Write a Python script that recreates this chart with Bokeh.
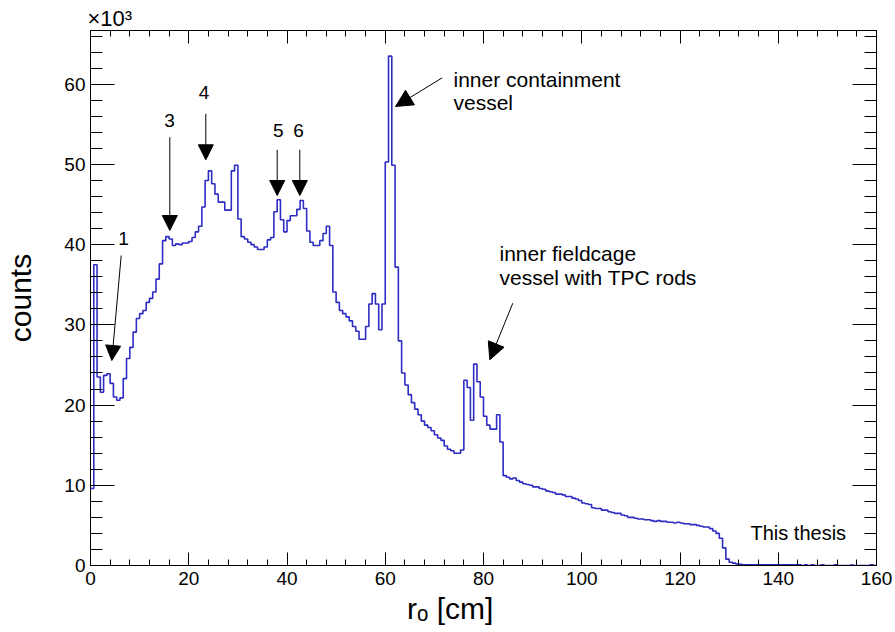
import numpy as np
from bokeh.plotting import figure
from bokeh.models import (Range1d, FixedTicker, LinearAxis, Label, Arrow, NormalHead,
                          CustomJSTickFormatter, ColumnDataSource)
from bokeh.embed import file_html
from bokeh.resources import INLINE

# ---------------- data ----------------
R_MIN, R_MAX, N_BINS = 0.0, 160.0, 240          # histogram binning (cm)
Y_MAX = 66.7                                     # counts axis max (x10^3)

counts_k = [  # counts per bin, in units of 10^3
    9.6, 37.5, 23.5, 21.6, 23.7, 23.9, 22.7, 21.0, 20.6, 20.9,
    23.3, 25.8, 27.2, 29.1, 30.8, 31.4, 31.8, 32.8, 33.3, 34.1,
    35.7, 37.6, 40.5, 41.0, 40.7, 39.9, 40.1, 40.0, 40.2, 40.2,
    40.4, 40.9, 41.6, 42.3, 44.7, 48.0, 49.2, 47.6, 46.3, 45.3,
    45.3, 44.3, 44.3, 49.2, 49.9, 43.2, 41.0, 40.7, 40.3, 40.0,
    39.7, 39.4, 39.4, 39.7, 40.6, 40.9, 44.1, 45.6, 43.1, 41.6,
    43.0, 43.6, 43.6, 44.4, 45.5, 44.5, 41.7, 40.3, 39.9, 39.9,
    40.5, 41.4, 42.3, 39.9, 34.1, 32.8, 31.8, 31.4, 31.0, 30.5,
    29.8, 29.2, 28.2, 28.2, 29.8, 32.6, 33.9, 32.6, 29.4, 32.6,
    50.3, 63.5, 49.9, 37.2, 28.0, 24.0, 22.5, 21.3, 20.3, 19.5,
    18.8, 18.0, 17.5, 17.2, 16.8, 16.3, 15.9, 15.6, 14.9, 14.5,
    14.3, 14.0, 14.0, 14.4, 23.1, 22.2, 18.1, 25.1, 22.9, 21.0,
    18.6, 17.5, 17.0, 17.0, 18.8, 15.4, 11.2, 11.0, 10.8, 10.9,
    10.6, 10.4, 10.2, 10.1, 10.0, 9.8, 9.8, 9.6, 9.5, 9.3,
    9.2, 9.1, 8.9, 8.9, 8.8, 8.6, 8.6, 8.4, 8.3, 8.1,
    7.8, 7.7, 7.6, 7.2, 7.1, 7.1, 6.9, 6.9, 6.7, 6.6,
    6.5, 6.5, 6.3, 6.2, 6.0, 6.0, 5.9, 5.8, 5.8, 5.7,
    5.7, 5.6, 5.5, 5.6, 5.5, 5.5, 5.4, 5.4, 5.3, 5.4,
    5.3, 5.2, 5.2, 5.1, 5.1, 5.0, 4.9, 4.8, 4.8, 4.6,
    4.3, 4.0, 3.4, 2.2, 0.8, 0.4, 0.3, 0.2, 0.15, 0.1,
    0.1, 0.1, 0.1, 0.1, 0.1, 0.1, 0.1, 0.1, 0.1, 0.1,
    0.1, 0.1, 0.1, 0.1, 0.1, 0.1, 0.1, 0.0, 0.1, 0.0,
    0.1, 0.0, 0.0, 0.1, 0.0, 0.0, 0.0, 0.1, 0.0, 0.0,
    0.0, 0.0, 0.05, 0.0, 0.0, 0.0, 0.0, 0.0, 0.1, 0.0,
]

x_ticks = [0, 20, 40, 60, 80, 100, 120, 140, 160]
y_ticks = [0, 10, 20, 30, 40, 50, 60]

# ---------------- layout helpers ----------------
W, H = 895, 632
FL, FR, FT, FB = 90, 876, 30, 565        # frame edges in pixels
FONT = "Liberation Sans"
BLUE = "#2d2dc4"

def dx(px):
    return R_MIN + (px - FL) * (R_MAX - R_MIN) / (FR - FL)

def dy(py):
    return (FB - py) * Y_MAX / (FB - FT)

# ---------------- figure ----------------
p = figure(width=W, height=H, x_range=Range1d(R_MIN, R_MAX), y_range=Range1d(0, Y_MAX),
           output_backend="svg", toolbar_location=None,
           min_border_left=FL, min_border_right=W - FR, min_border_top=FT,
           min_border_bottom=H - FB, title="\u00d710\u00b3")
p.background_fill_color = "white"
p.border_fill_color = "white"
p.outline_line_color = "black"
p.outline_line_width = 1
p.xgrid.visible = False
p.ygrid.visible = False

p.title.align = "left"
p.title.offset = -3
p.title.standoff = 0
p.title.text_font = FONT
p.title.text_font_size = "22px"
p.title.text_font_style = "normal"
p.title.text_color = "black"

edges = np.linspace(R_MIN, R_MAX, N_BINS + 1)
src = ColumnDataSource(dict(r=edges, c=list(counts_k) + [counts_k[-1]]))
p.step("r", "c", source=src, mode="after", line_color=BLUE, line_width=1.6)

blank = CustomJSTickFormatter(code="return ''")

def style(ax, ticks, minor, tin, tmin, labels=True):
    ax.ticker = FixedTicker(ticks=ticks, minor_ticks=minor)
    ax.major_tick_in = tin
    ax.major_tick_out = 0
    ax.minor_tick_in = tmin
    ax.minor_tick_out = 0
    ax.axis_line_color = "black"
    ax.major_tick_line_color = "black"
    ax.minor_tick_line_color = "black"
    ax.major_label_text_font = FONT
    ax.major_label_text_font_size = "19px"
    ax.major_label_text_color = "black"
    if not labels:
        ax.formatter = blank
        ax.major_label_text_font_size = "0px"
        ax.major_label_standoff = 0

x_minor = list(np.arange(0, 161, 4))
y_minor = list(np.arange(0, 67, 2))

xa = p.xaxis[0]
style(xa, x_ticks, x_minor, 13, 6)
xa.major_label_standoff = 6
xa.axis_label = "r\u2092 [cm]" + "\u00a0" * 8
xa.axis_label_text_font = FONT
xa.axis_label_text_font_size = "30px"
xa.axis_label_text_font_style = "normal"
xa.axis_label_text_color = "black"
xa.axis_label_standoff = 4

ya = p.yaxis[0]
style(ya, y_ticks, y_minor, 24, 12)
ya.major_label_standoff = 5
ya.axis_label = "counts"
ya.axis_label_text_font = FONT
ya.axis_label_text_font_size = "30px"
ya.axis_label_text_font_style = "normal"
ya.axis_label_text_color = "black"
ya.axis_label_standoff = 24

top = LinearAxis()
style(top, x_ticks, x_minor, 13, 6, labels=False)
p.add_layout(top, "above")
right = LinearAxis()
style(right, y_ticks, y_minor, 24, 12, labels=False)
p.add_layout(right, "right")

def lab(text, px, py, size, align="left", baseline="alphabetic"):
    p.add_layout(Label(x=dx(px), y=dy(py), text=text, text_font=FONT,
                       text_font_size=size, text_color="black", text_align=align,
                       text_baseline=baseline))

# peak labels and arrows
def arrow(x0, y0, x1, y1, size=15):
    p.add_layout(Arrow(end=NormalHead(size=size, fill_color="black", line_color="black", line_width=1),
                       x_start=dx(x0), y_start=dy(y0), x_end=dx(x1), y_end=dy(y1),
                       line_color="black", line_width=1))

lab("1", 123, 238, "19px", align="center", baseline="middle")
arrow(120.7, 255, 111.3, 360)
lab("3", 169, 120, "19px", align="center", baseline="middle")
arrow(169.3, 136.7, 169.3, 230)
lab("4", 203.5, 92, "19px", align="center", baseline="middle")
arrow(205.3, 113.3, 205.3, 159.3)
lab("5", 277.7, 129.5, "19px", align="center", baseline="middle")
arrow(276.7, 149.3, 276.7, 195)
lab("6", 298, 129.5, "19px", align="center", baseline="middle")
arrow(299.3, 149.3, 299.3, 195)

lab("inner containment", 453, 79, "21px")
lab("vessel", 453, 102, "21px")
arrow(441.7, 77.3, 395, 106, size=17)

lab("inner fieldcage", 499, 253, "21px")
lab("vessel with TPC rods", 499, 277, "21px")
arrow(512.3, 302.7, 489.3, 359.3, size=17)

lab("This thesis", 750, 532, "20px")

open("out.html", "w").write(file_html(p, INLINE))
